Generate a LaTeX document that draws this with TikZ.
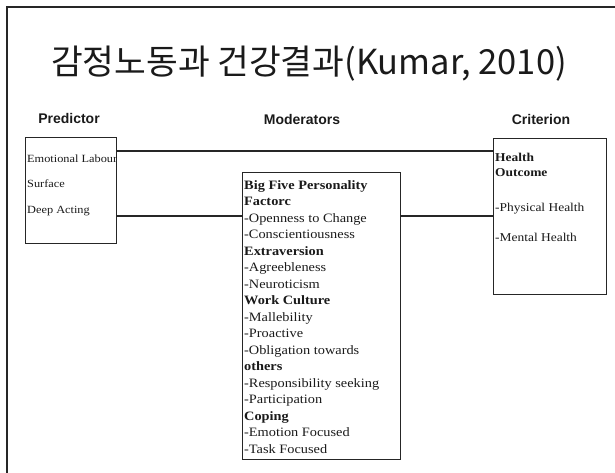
\documentclass[tikz,border=0pt]{standalone}
\usepackage{fontspec}
\setmainfont{Liberation Serif}[FakeStretch=1.12]
\newfontfamily\headfont{Liberation Sans}
\newfontfamily\titlefont{Noto Sans CJK KR}
\usetikzlibrary{positioning}
\definecolor{ekline}{HTML}{262626}
\definecolor{ektext}{HTML}{1A1A1A}

\begin{document}
\begin{tikzpicture}[x=1pt, y=-1pt,
    panel/.style={draw=ekline, line width=1.4pt, anchor=north west, inner sep=0pt},
    itemlist/.style={anchor=north west, align=left, inner sep=0pt, text=ektext},
    head/.style={font=\headfont\bfseries\fontsize{14}{16}\selectfont, text=ektext},
    link/.style={draw=ekline, line width=1.2pt}
  ]
    \useasboundingbox (0,0) rectangle (615,473);
    % slide frame
    \draw[ekline, line width=1.2pt] (7,473) -- (7,7) -- (615,7);

    \node[anchor=base, font=\titlefont\fontsize{34.5}{38}\selectfont, text=ektext] (title) at (309,75)
      {감정노동과 건강결과(Kumar, 2010)};

    \node[head] (hpred) at (69,118) {Predictor};
    \node[head] (hmod) at (302,119) {Moderators};
    \node[head] (hcrit) at (541,119) {Criterion};

    \node[panel, minimum width=91pt, minimum height=106pt] (pred) at (25,137) {};
    \node[panel, minimum width=158pt, minimum height=287pt] (mod) at (242,172) {};
    \node[panel, minimum width=113pt, minimum height=156pt] (crit) at (493,138) {};

    \node[itemlist, font=\fontsize{11}{25.5}\selectfont] (predtext) at (27,154.4)
      {Emotional Labour\\Surface\\Deep Acting};

    \node[itemlist, font=\fontsize{12.8}{16.5}\selectfont] (modtext) at (244,180.2)
      {\textbf{Big Five Personality}\\\textbf{Factorc}\\-Openness to Change\\-Conscientiousness\\
       \textbf{Extraversion}\\-Agreebleness\\-Neuroticism\\\textbf{Work Culture}\\-Mallebility\\
       -Proactive\\-Obligation towards\\\textbf{others}\\-Responsibility seeking\\-Participation\\
       \textbf{Coping}\\-Emotion Focused\\-Task Focused};

    \node[itemlist, font=\fontsize{12}{15}\selectfont] (crittext) at (495,152.7)
      {\textbf{Health}\\\textbf{Outcome}\\[20pt]-Physical Health\\[15pt]-Mental Health};

    \coordinate (upper) at (0,151);
    \coordinate (lower) at (0,216);
    \draw[link] (pred.east |- upper) -- (crit.west |- upper);
    \draw[link] (pred.east |- lower) -- (mod.west |- lower);
    \draw[link] (mod.east |- lower) -- (crit.west |- lower);
  \end{tikzpicture}
\end{document}
